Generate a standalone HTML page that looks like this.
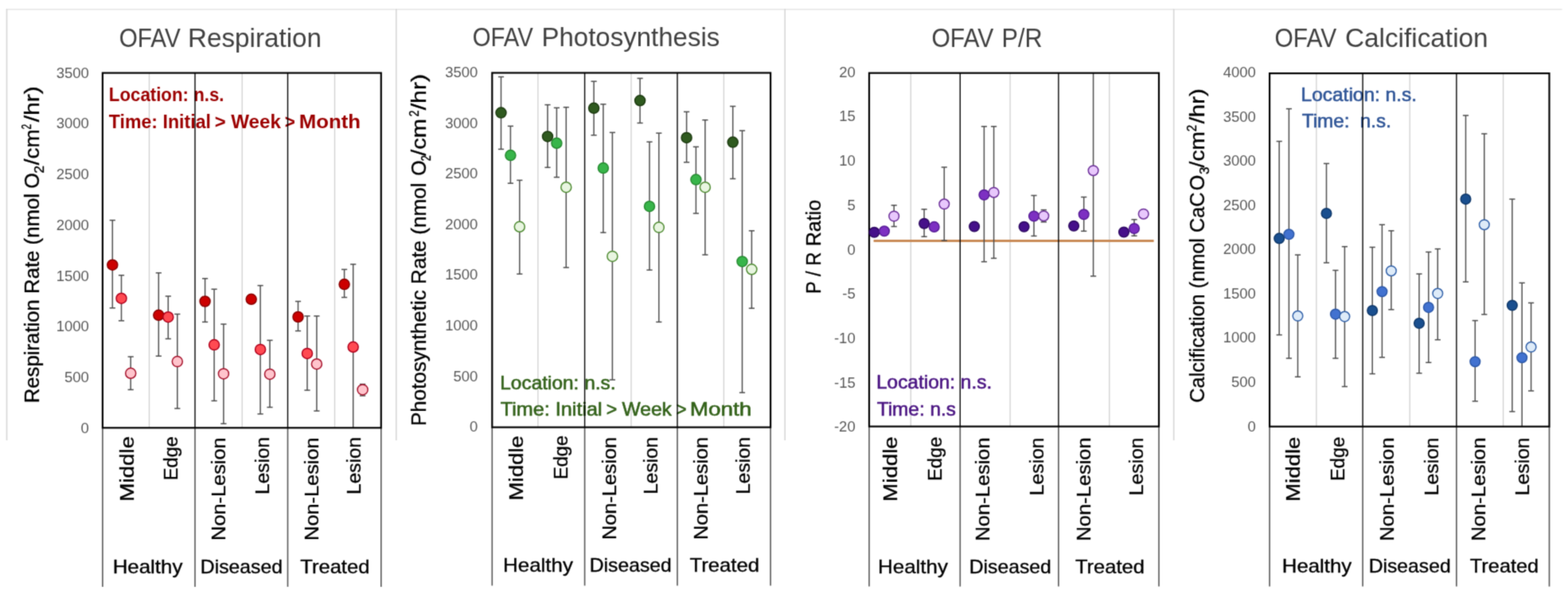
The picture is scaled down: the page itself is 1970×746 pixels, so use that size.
<!DOCTYPE html>
<html><head><meta charset="utf-8"><title>OFAV charts</title>
<style>
html,body{margin:0;padding:0;background:#fff;}
svg{display:block;}
#wrap{width:1970px;height:746px;}
text{font-family:"Liberation Sans", sans-serif;white-space:pre;}
.k{stroke:#000;stroke-width:0.35px;}
</style></head>
<body>
<div id="wrap">
<svg width="1970" height="746" viewBox="0 0 1970 746">
<defs><filter id="soft" x="0" y="0" width="100%" height="100%" filterUnits="userSpaceOnUse" color-interpolation-filters="sRGB"><feConvolveMatrix order="3" kernelMatrix="1 4 1 4 16 4 1 4 1" divisor="36" edgeMode="duplicate"/></filter></defs>
<g filter="url(#soft)">
<rect width="1970" height="746" fill="#fff"/>
<line x1="8.4" y1="11.8" x2="1962.5" y2="11.8" stroke="#e6e6e6" stroke-width="1.6"/>
<line x1="8.5" y1="11" x2="8.5" y2="553" stroke="#d6d6d6" stroke-width="1.6"/>
<line x1="497.8" y1="11" x2="497.8" y2="553" stroke="#d6d6d6" stroke-width="1.6"/>
<line x1="986.2" y1="11" x2="986.2" y2="553" stroke="#d6d6d6" stroke-width="1.6"/>
<line x1="1474.7" y1="11" x2="1474.7" y2="553" stroke="#d6d6d6" stroke-width="1.6"/>
<line x1="187.5" y1="91.6" x2="187.5" y2="537.3" stroke="#cfcfcf" stroke-width="1.3"/>
<line x1="304.2" y1="91.6" x2="304.2" y2="537.3" stroke="#cfcfcf" stroke-width="1.3"/>
<line x1="420.5" y1="91.6" x2="420.5" y2="537.3" stroke="#cfcfcf" stroke-width="1.3"/>
<text x="136.8" y="126.7" font-size="23.6" font-weight="bold" fill="#9c0000" textLength="144.71" lengthAdjust="spacingAndGlyphs" xml:space="preserve">Location: n.s.</text>
<text x="136.77" y="161" font-size="23.6" font-weight="bold" fill="#9c0000" textLength="128.17" lengthAdjust="spacingAndGlyphs" xml:space="preserve">Time: Initial</text>
<text x="269.79" y="161" font-size="23.6" font-weight="bold" fill="#9c0000" textLength="13.9" lengthAdjust="spacingAndGlyphs" xml:space="preserve">&gt;</text>
<text x="290.2" y="161" font-size="23.6" font-weight="bold" fill="#9c0000" textLength="62.68" lengthAdjust="spacingAndGlyphs" xml:space="preserve">Week</text>
<text x="357.75" y="161" font-size="23.6" font-weight="bold" fill="#9c0000" textLength="13.08" lengthAdjust="spacingAndGlyphs" xml:space="preserve">&gt;</text>
<text x="375.66" y="161" font-size="23.6" font-weight="bold" fill="#9c0000" textLength="77.42" lengthAdjust="spacingAndGlyphs" xml:space="preserve">Month</text>
<line x1="128.9" y1="537.3" x2="128.9" y2="736.9" stroke="#555555" stroke-width="1.6"/>
<line x1="245" y1="537.3" x2="245" y2="736.9" stroke="#555555" stroke-width="1.6"/>
<line x1="361.5" y1="537.3" x2="361.5" y2="736.9" stroke="#555555" stroke-width="1.6"/>
<line x1="478.8" y1="537.3" x2="478.8" y2="736.9" stroke="#555555" stroke-width="1.6"/>
<line x1="141.3" y1="276.6" x2="141.3" y2="386.8" stroke="#4d4d4d" stroke-width="1.5"/>
<line x1="137.7" y1="276.6" x2="144.9" y2="276.6" stroke="#4d4d4d" stroke-width="1.5"/>
<line x1="137.7" y1="386.8" x2="144.9" y2="386.8" stroke="#4d4d4d" stroke-width="1.5"/>
<line x1="152.5" y1="345.7" x2="152.5" y2="402.8" stroke="#4d4d4d" stroke-width="1.5"/>
<line x1="148.9" y1="345.7" x2="156.1" y2="345.7" stroke="#4d4d4d" stroke-width="1.5"/>
<line x1="148.9" y1="402.8" x2="156.1" y2="402.8" stroke="#4d4d4d" stroke-width="1.5"/>
<line x1="164.2" y1="448" x2="164.2" y2="489.4" stroke="#4d4d4d" stroke-width="1.5"/>
<line x1="160.6" y1="448" x2="167.8" y2="448" stroke="#4d4d4d" stroke-width="1.5"/>
<line x1="160.6" y1="489.4" x2="167.8" y2="489.4" stroke="#4d4d4d" stroke-width="1.5"/>
<line x1="199.3" y1="342.7" x2="199.3" y2="447.2" stroke="#4d4d4d" stroke-width="1.5"/>
<line x1="195.7" y1="342.7" x2="202.9" y2="342.7" stroke="#4d4d4d" stroke-width="1.5"/>
<line x1="195.7" y1="447.2" x2="202.9" y2="447.2" stroke="#4d4d4d" stroke-width="1.5"/>
<line x1="211.3" y1="372" x2="211.3" y2="425.5" stroke="#4d4d4d" stroke-width="1.5"/>
<line x1="207.7" y1="372" x2="214.9" y2="372" stroke="#4d4d4d" stroke-width="1.5"/>
<line x1="207.7" y1="425.5" x2="214.9" y2="425.5" stroke="#4d4d4d" stroke-width="1.5"/>
<line x1="222.8" y1="394.5" x2="222.8" y2="513" stroke="#4d4d4d" stroke-width="1.5"/>
<line x1="219.2" y1="394.5" x2="226.4" y2="394.5" stroke="#4d4d4d" stroke-width="1.5"/>
<line x1="219.2" y1="513" x2="226.4" y2="513" stroke="#4d4d4d" stroke-width="1.5"/>
<line x1="257.6" y1="349.8" x2="257.6" y2="404.4" stroke="#4d4d4d" stroke-width="1.5"/>
<line x1="254" y1="349.8" x2="261.2" y2="349.8" stroke="#4d4d4d" stroke-width="1.5"/>
<line x1="254" y1="404.4" x2="261.2" y2="404.4" stroke="#4d4d4d" stroke-width="1.5"/>
<line x1="269.1" y1="363.2" x2="269.1" y2="503.4" stroke="#4d4d4d" stroke-width="1.5"/>
<line x1="265.5" y1="363.2" x2="272.7" y2="363.2" stroke="#4d4d4d" stroke-width="1.5"/>
<line x1="265.5" y1="503.4" x2="272.7" y2="503.4" stroke="#4d4d4d" stroke-width="1.5"/>
<line x1="280.9" y1="407.1" x2="280.9" y2="532.1" stroke="#4d4d4d" stroke-width="1.5"/>
<line x1="277.3" y1="407.1" x2="284.5" y2="407.1" stroke="#4d4d4d" stroke-width="1.5"/>
<line x1="277.3" y1="532.1" x2="284.5" y2="532.1" stroke="#4d4d4d" stroke-width="1.5"/>
<line x1="327.1" y1="358.6" x2="327.1" y2="519.9" stroke="#4d4d4d" stroke-width="1.5"/>
<line x1="323.5" y1="358.6" x2="330.7" y2="358.6" stroke="#4d4d4d" stroke-width="1.5"/>
<line x1="323.5" y1="519.9" x2="330.7" y2="519.9" stroke="#4d4d4d" stroke-width="1.5"/>
<line x1="339" y1="427.4" x2="339" y2="511.5" stroke="#4d4d4d" stroke-width="1.5"/>
<line x1="335.4" y1="427.4" x2="342.6" y2="427.4" stroke="#4d4d4d" stroke-width="1.5"/>
<line x1="335.4" y1="511.5" x2="342.6" y2="511.5" stroke="#4d4d4d" stroke-width="1.5"/>
<line x1="374.5" y1="378.5" x2="374.5" y2="415.6" stroke="#4d4d4d" stroke-width="1.5"/>
<line x1="370.9" y1="378.5" x2="378.1" y2="378.5" stroke="#4d4d4d" stroke-width="1.5"/>
<line x1="370.9" y1="415.6" x2="378.1" y2="415.6" stroke="#4d4d4d" stroke-width="1.5"/>
<line x1="386" y1="396.9" x2="386" y2="490.1" stroke="#4d4d4d" stroke-width="1.5"/>
<line x1="382.4" y1="396.9" x2="389.6" y2="396.9" stroke="#4d4d4d" stroke-width="1.5"/>
<line x1="382.4" y1="490.1" x2="389.6" y2="490.1" stroke="#4d4d4d" stroke-width="1.5"/>
<line x1="397.9" y1="396.9" x2="397.9" y2="516.1" stroke="#4d4d4d" stroke-width="1.5"/>
<line x1="394.3" y1="396.9" x2="401.5" y2="396.9" stroke="#4d4d4d" stroke-width="1.5"/>
<line x1="394.3" y1="516.1" x2="401.5" y2="516.1" stroke="#4d4d4d" stroke-width="1.5"/>
<line x1="432.6" y1="338.4" x2="432.6" y2="373.5" stroke="#4d4d4d" stroke-width="1.5"/>
<line x1="429" y1="338.4" x2="436.2" y2="338.4" stroke="#4d4d4d" stroke-width="1.5"/>
<line x1="429" y1="373.5" x2="436.2" y2="373.5" stroke="#4d4d4d" stroke-width="1.5"/>
<line x1="443.7" y1="331.9" x2="443.7" y2="537.4" stroke="#4d4d4d" stroke-width="1.5"/>
<line x1="440.1" y1="331.9" x2="447.3" y2="331.9" stroke="#4d4d4d" stroke-width="1.5"/>
<line x1="455.6" y1="482.5" x2="455.6" y2="497" stroke="#4d4d4d" stroke-width="1.5"/>
<line x1="452" y1="482.5" x2="459.2" y2="482.5" stroke="#4d4d4d" stroke-width="1.5"/>
<line x1="452" y1="497" x2="459.2" y2="497" stroke="#4d4d4d" stroke-width="1.5"/>
<rect x="128.9" y="91.6" width="349.9" height="445.7" fill="none" stroke="#000000" stroke-width="2.2"/>
<circle cx="141.3" cy="332.7" r="6.5" fill="#cc0000" stroke="#8a0000" stroke-width="1.5"/>
<circle cx="152.5" cy="374.7" r="6.5" fill="#ff4a52" stroke="#b0001c" stroke-width="1.5"/>
<circle cx="164.2" cy="468.8" r="6.5" fill="#ffc4cc" stroke="#a5102a" stroke-width="1.5"/>
<circle cx="199.3" cy="395.8" r="6.5" fill="#cc0000" stroke="#8a0000" stroke-width="1.5"/>
<circle cx="211.3" cy="398.2" r="6.5" fill="#ff4a52" stroke="#b0001c" stroke-width="1.5"/>
<circle cx="222.8" cy="454.1" r="6.5" fill="#ffc4cc" stroke="#a5102a" stroke-width="1.5"/>
<circle cx="257.6" cy="378.5" r="6.5" fill="#cc0000" stroke="#8a0000" stroke-width="1.5"/>
<circle cx="269.1" cy="433.1" r="6.5" fill="#ff4a52" stroke="#b0001c" stroke-width="1.5"/>
<circle cx="280.9" cy="469.4" r="6.5" fill="#ffc4cc" stroke="#a5102a" stroke-width="1.5"/>
<circle cx="315.7" cy="375.8" r="6.5" fill="#cc0000" stroke="#8a0000" stroke-width="1.5"/>
<circle cx="327.1" cy="438.9" r="6.5" fill="#ff4a52" stroke="#b0001c" stroke-width="1.5"/>
<circle cx="339" cy="469.9" r="6.5" fill="#ffc4cc" stroke="#a5102a" stroke-width="1.5"/>
<circle cx="374.5" cy="398" r="6.5" fill="#cc0000" stroke="#8a0000" stroke-width="1.5"/>
<circle cx="386" cy="443.9" r="6.5" fill="#ff4a52" stroke="#b0001c" stroke-width="1.5"/>
<circle cx="397.9" cy="457.2" r="6.5" fill="#ffc4cc" stroke="#a5102a" stroke-width="1.5"/>
<circle cx="432.6" cy="357.1" r="6.5" fill="#cc0000" stroke="#8a0000" stroke-width="1.5"/>
<circle cx="443.7" cy="435.8" r="6.5" fill="#ff4a52" stroke="#b0001c" stroke-width="1.5"/>
<circle cx="455.6" cy="489.4" r="6.5" fill="#ffc4cc" stroke="#a5102a" stroke-width="1.5"/>
<line x1="245" y1="91.6" x2="245" y2="537.3" stroke="#000000" stroke-width="1.4"/>
<line x1="361.5" y1="91.6" x2="361.5" y2="537.3" stroke="#000000" stroke-width="1.4"/>
<text x="149.69" y="59.4" font-size="32.8" fill="#404040" textLength="77.11" lengthAdjust="spacingAndGlyphs" xml:space="preserve">OFAV</text>
<text x="236.06" y="59.4" font-size="32.8" fill="#404040" textLength="167.94" lengthAdjust="spacingAndGlyphs" xml:space="preserve">Respiration</text>
<text x="111.83" y="97.61" font-size="18.5" fill="#595959" text-anchor="end">3500</text>
<text x="111.83" y="161.37" font-size="18.5" fill="#595959" text-anchor="end">3000</text>
<text x="111.83" y="225.14" font-size="18.5" fill="#595959" text-anchor="end">2500</text>
<text x="111.83" y="288.9" font-size="18.5" fill="#595959" text-anchor="end">2000</text>
<text x="111.83" y="352.67" font-size="18.5" fill="#595959" text-anchor="end">1500</text>
<text x="111.83" y="416.43" font-size="18.5" fill="#595959" text-anchor="end">1000</text>
<text x="111.81" y="480.2" font-size="18.5" fill="#595959" text-anchor="end">500</text>
<text x="111.82" y="543.96" font-size="18.5" fill="#595959" text-anchor="end">0</text>
<text class="k" transform="translate(48.6,504.2) rotate(-90)" x="-2.12" y="0" font-size="26.0" fill="#000" textLength="263.25" lengthAdjust="spacingAndGlyphs">Respiration Rate (nmol</text>
<text class="k" transform="translate(48.6,235.5) rotate(-90)" x="-1.19" y="0" font-size="26.0" fill="#000" textLength="19.49" lengthAdjust="spacingAndGlyphs">O</text>
<text class="k" transform="translate(54.5,216.8) rotate(-90)" x="-0.88" y="0" font-size="16.0" fill="#000" textLength="9.78" lengthAdjust="spacingAndGlyphs">2</text>
<text class="k" transform="translate(48.6,207.2) rotate(-90)" x="0" y="0" font-size="26.0" fill="#000" textLength="44.73" lengthAdjust="spacingAndGlyphs">/cm</text>
<text class="k" transform="translate(39,161.9) rotate(-90)" x="-0.59" y="0" font-size="16.0" fill="#000" textLength="6.6" lengthAdjust="spacingAndGlyphs">2</text>
<text class="k" transform="translate(48.6,153.3) rotate(-90)" x="0" y="0" font-size="26.0" fill="#000" textLength="45.21" lengthAdjust="spacingAndGlyphs">/hr)</text>
<text class="k" transform="translate(167.8,627.5) rotate(-90)" x="-2.29" y="0" font-size="24.2" fill="#000" textLength="81.9" lengthAdjust="spacingAndGlyphs">Middle</text>
<text class="k" transform="translate(223.2,601.4) rotate(-90)" x="-1.96" y="0" font-size="24.2" fill="#000" textLength="55.38" lengthAdjust="spacingAndGlyphs">Edge</text>
<text class="k" transform="translate(283.2,676.8) rotate(-90)" x="-2.09" y="0" font-size="24.2" fill="#000" textLength="129.52" lengthAdjust="spacingAndGlyphs">Non-Lesion</text>
<text class="k" transform="translate(338.3,618.9) rotate(-90)" x="-2.02" y="0" font-size="24.2" fill="#000" textLength="71.99" lengthAdjust="spacingAndGlyphs">Lesion</text>
<text class="k" transform="translate(399.7,676.8) rotate(-90)" x="-2.09" y="0" font-size="24.2" fill="#000" textLength="129.52" lengthAdjust="spacingAndGlyphs">Non-Lesion</text>
<text class="k" transform="translate(453.2,618.9) rotate(-90)" x="-2.02" y="0" font-size="24.2" fill="#000" textLength="71.99" lengthAdjust="spacingAndGlyphs">Lesion</text>
<text class="k" x="141.67" y="719.6" font-size="23.8" fill="#000" textLength="87.72" lengthAdjust="spacingAndGlyphs" xml:space="preserve">Healthy</text>
<text class="k" x="251.86" y="719.6" font-size="23.8" fill="#000" textLength="103.13" lengthAdjust="spacingAndGlyphs" xml:space="preserve">Diseased</text>
<text class="k" x="377.22" y="719.6" font-size="23.8" fill="#000" textLength="87.22" lengthAdjust="spacingAndGlyphs" xml:space="preserve">Treated</text>
<line x1="675.9" y1="91.5" x2="675.9" y2="536.6" stroke="#cfcfcf" stroke-width="1.3"/>
<line x1="793" y1="91.5" x2="793" y2="536.6" stroke="#cfcfcf" stroke-width="1.3"/>
<line x1="909.4" y1="91.5" x2="909.4" y2="536.6" stroke="#cfcfcf" stroke-width="1.3"/>
<text x="628.29" y="488.6" font-size="23.6" stroke="#33621a" stroke-width="0.6" stroke-linejoin="round" fill="#33621a" textLength="145.24" lengthAdjust="spacingAndGlyphs" xml:space="preserve">Location: n.s.</text>
<text x="628.73" y="522.3" font-size="23.6" stroke="#33621a" stroke-width="0.6" stroke-linejoin="round" fill="#33621a" textLength="127.88" lengthAdjust="spacingAndGlyphs" xml:space="preserve">Time: Initial</text>
<text x="761.75" y="522.3" font-size="23.6" stroke="#33621a" stroke-width="0.6" stroke-linejoin="round" fill="#33621a" textLength="13.49" lengthAdjust="spacingAndGlyphs" xml:space="preserve">&gt;</text>
<text x="781.48" y="522.3" font-size="23.6" stroke="#33621a" stroke-width="0.6" stroke-linejoin="round" fill="#33621a" textLength="62.44" lengthAdjust="spacingAndGlyphs" xml:space="preserve">Week</text>
<text x="849.81" y="522.3" font-size="23.6" stroke="#33621a" stroke-width="0.6" stroke-linejoin="round" fill="#33621a" textLength="12.76" lengthAdjust="spacingAndGlyphs" xml:space="preserve">&gt;</text>
<text x="866.69" y="522.3" font-size="23.6" stroke="#33621a" stroke-width="0.6" stroke-linejoin="round" fill="#33621a" textLength="77.71" lengthAdjust="spacingAndGlyphs" xml:space="preserve">Month</text>
<line x1="618.3" y1="536.6" x2="618.3" y2="735.5" stroke="#555555" stroke-width="1.6"/>
<line x1="734.6" y1="536.6" x2="734.6" y2="735.5" stroke="#555555" stroke-width="1.6"/>
<line x1="851" y1="536.6" x2="851" y2="735.5" stroke="#555555" stroke-width="1.6"/>
<line x1="968.1" y1="536.6" x2="968.1" y2="735.5" stroke="#555555" stroke-width="1.6"/>
<line x1="629.5" y1="96.5" x2="629.5" y2="187.4" stroke="#4d4d4d" stroke-width="1.5"/>
<line x1="625.9" y1="96.5" x2="633.1" y2="96.5" stroke="#4d4d4d" stroke-width="1.5"/>
<line x1="625.9" y1="187.4" x2="633.1" y2="187.4" stroke="#4d4d4d" stroke-width="1.5"/>
<line x1="641.4" y1="158.4" x2="641.4" y2="230.2" stroke="#4d4d4d" stroke-width="1.5"/>
<line x1="637.8" y1="158.4" x2="645" y2="158.4" stroke="#4d4d4d" stroke-width="1.5"/>
<line x1="637.8" y1="230.2" x2="645" y2="230.2" stroke="#4d4d4d" stroke-width="1.5"/>
<line x1="652.8" y1="226.4" x2="652.8" y2="344.1" stroke="#4d4d4d" stroke-width="1.5"/>
<line x1="649.2" y1="226.4" x2="656.4" y2="226.4" stroke="#4d4d4d" stroke-width="1.5"/>
<line x1="649.2" y1="344.1" x2="656.4" y2="344.1" stroke="#4d4d4d" stroke-width="1.5"/>
<line x1="688" y1="131.6" x2="688" y2="210.3" stroke="#4d4d4d" stroke-width="1.5"/>
<line x1="684.4" y1="131.6" x2="691.6" y2="131.6" stroke="#4d4d4d" stroke-width="1.5"/>
<line x1="684.4" y1="210.3" x2="691.6" y2="210.3" stroke="#4d4d4d" stroke-width="1.5"/>
<line x1="699.4" y1="135.4" x2="699.4" y2="222.6" stroke="#4d4d4d" stroke-width="1.5"/>
<line x1="695.8" y1="135.4" x2="703" y2="135.4" stroke="#4d4d4d" stroke-width="1.5"/>
<line x1="695.8" y1="222.6" x2="703" y2="222.6" stroke="#4d4d4d" stroke-width="1.5"/>
<line x1="711.3" y1="134.7" x2="711.3" y2="336" stroke="#4d4d4d" stroke-width="1.5"/>
<line x1="707.7" y1="134.7" x2="714.9" y2="134.7" stroke="#4d4d4d" stroke-width="1.5"/>
<line x1="707.7" y1="336" x2="714.9" y2="336" stroke="#4d4d4d" stroke-width="1.5"/>
<line x1="746.1" y1="102.2" x2="746.1" y2="169.8" stroke="#4d4d4d" stroke-width="1.5"/>
<line x1="742.5" y1="102.2" x2="749.7" y2="102.2" stroke="#4d4d4d" stroke-width="1.5"/>
<line x1="742.5" y1="169.8" x2="749.7" y2="169.8" stroke="#4d4d4d" stroke-width="1.5"/>
<line x1="757.9" y1="130.9" x2="757.9" y2="292.1" stroke="#4d4d4d" stroke-width="1.5"/>
<line x1="754.3" y1="130.9" x2="761.5" y2="130.9" stroke="#4d4d4d" stroke-width="1.5"/>
<line x1="754.3" y1="292.1" x2="761.5" y2="292.1" stroke="#4d4d4d" stroke-width="1.5"/>
<line x1="769.4" y1="166.4" x2="769.4" y2="477" stroke="#4d4d4d" stroke-width="1.5"/>
<line x1="765.8" y1="166.4" x2="773" y2="166.4" stroke="#4d4d4d" stroke-width="1.5"/>
<line x1="765.8" y1="477" x2="773" y2="477" stroke="#4d4d4d" stroke-width="1.5"/>
<line x1="804.1" y1="98.4" x2="804.1" y2="154.5" stroke="#4d4d4d" stroke-width="1.5"/>
<line x1="800.5" y1="98.4" x2="807.7" y2="98.4" stroke="#4d4d4d" stroke-width="1.5"/>
<line x1="800.5" y1="154.5" x2="807.7" y2="154.5" stroke="#4d4d4d" stroke-width="1.5"/>
<line x1="816" y1="178.2" x2="816" y2="339.1" stroke="#4d4d4d" stroke-width="1.5"/>
<line x1="812.4" y1="178.2" x2="819.6" y2="178.2" stroke="#4d4d4d" stroke-width="1.5"/>
<line x1="812.4" y1="339.1" x2="819.6" y2="339.1" stroke="#4d4d4d" stroke-width="1.5"/>
<line x1="827.8" y1="167.2" x2="827.8" y2="404.4" stroke="#4d4d4d" stroke-width="1.5"/>
<line x1="824.2" y1="167.2" x2="831.4" y2="167.2" stroke="#4d4d4d" stroke-width="1.5"/>
<line x1="824.2" y1="404.4" x2="831.4" y2="404.4" stroke="#4d4d4d" stroke-width="1.5"/>
<line x1="862.6" y1="140.4" x2="862.6" y2="203.8" stroke="#4d4d4d" stroke-width="1.5"/>
<line x1="859" y1="140.4" x2="866.2" y2="140.4" stroke="#4d4d4d" stroke-width="1.5"/>
<line x1="859" y1="203.8" x2="866.2" y2="203.8" stroke="#4d4d4d" stroke-width="1.5"/>
<line x1="874.4" y1="184.4" x2="874.4" y2="268" stroke="#4d4d4d" stroke-width="1.5"/>
<line x1="870.8" y1="184.4" x2="878" y2="184.4" stroke="#4d4d4d" stroke-width="1.5"/>
<line x1="870.8" y1="268" x2="878" y2="268" stroke="#4d4d4d" stroke-width="1.5"/>
<line x1="885.9" y1="150.7" x2="885.9" y2="320" stroke="#4d4d4d" stroke-width="1.5"/>
<line x1="882.3" y1="150.7" x2="889.5" y2="150.7" stroke="#4d4d4d" stroke-width="1.5"/>
<line x1="882.3" y1="320" x2="889.5" y2="320" stroke="#4d4d4d" stroke-width="1.5"/>
<line x1="920.7" y1="133.5" x2="920.7" y2="224.5" stroke="#4d4d4d" stroke-width="1.5"/>
<line x1="917.1" y1="133.5" x2="924.3" y2="133.5" stroke="#4d4d4d" stroke-width="1.5"/>
<line x1="917.1" y1="224.5" x2="924.3" y2="224.5" stroke="#4d4d4d" stroke-width="1.5"/>
<line x1="932.5" y1="164.1" x2="932.5" y2="493.1" stroke="#4d4d4d" stroke-width="1.5"/>
<line x1="928.9" y1="164.1" x2="936.1" y2="164.1" stroke="#4d4d4d" stroke-width="1.5"/>
<line x1="928.9" y1="493.1" x2="936.1" y2="493.1" stroke="#4d4d4d" stroke-width="1.5"/>
<line x1="944.4" y1="289.8" x2="944.4" y2="387.2" stroke="#4d4d4d" stroke-width="1.5"/>
<line x1="940.8" y1="289.8" x2="948" y2="289.8" stroke="#4d4d4d" stroke-width="1.5"/>
<line x1="940.8" y1="387.2" x2="948" y2="387.2" stroke="#4d4d4d" stroke-width="1.5"/>
<rect x="618.3" y="91.5" width="349.8" height="445.1" fill="none" stroke="#000000" stroke-width="2.2"/>
<circle cx="629.5" cy="141.6" r="6.5" fill="#2f5a1f" stroke="#1c3a10" stroke-width="1.5"/>
<circle cx="641.4" cy="195.1" r="6.5" fill="#38b54a" stroke="#268a30" stroke-width="1.5"/>
<circle cx="652.8" cy="284.8" r="6.5" fill="#e8f5e0" stroke="#4d8a30" stroke-width="1.5"/>
<circle cx="688" cy="171.4" r="6.5" fill="#2f5a1f" stroke="#1c3a10" stroke-width="1.5"/>
<circle cx="699.4" cy="179.8" r="6.5" fill="#38b54a" stroke="#268a30" stroke-width="1.5"/>
<circle cx="711.3" cy="235.2" r="6.5" fill="#e8f5e0" stroke="#4d8a30" stroke-width="1.5"/>
<circle cx="746.1" cy="135.8" r="6.5" fill="#2f5a1f" stroke="#1c3a10" stroke-width="1.5"/>
<circle cx="757.9" cy="211.1" r="6.5" fill="#38b54a" stroke="#268a30" stroke-width="1.5"/>
<circle cx="769.4" cy="321.9" r="6.5" fill="#e8f5e0" stroke="#4d8a30" stroke-width="1.5"/>
<circle cx="804.1" cy="126.3" r="6.5" fill="#2f5a1f" stroke="#1c3a10" stroke-width="1.5"/>
<circle cx="816" cy="259.2" r="6.5" fill="#38b54a" stroke="#268a30" stroke-width="1.5"/>
<circle cx="827.8" cy="285.6" r="6.5" fill="#e8f5e0" stroke="#4d8a30" stroke-width="1.5"/>
<circle cx="862.6" cy="172.9" r="6.5" fill="#2f5a1f" stroke="#1c3a10" stroke-width="1.5"/>
<circle cx="874.4" cy="225.6" r="6.5" fill="#38b54a" stroke="#268a30" stroke-width="1.5"/>
<circle cx="885.9" cy="235.2" r="6.5" fill="#e8f5e0" stroke="#4d8a30" stroke-width="1.5"/>
<circle cx="920.7" cy="178.6" r="6.5" fill="#2f5a1f" stroke="#1c3a10" stroke-width="1.5"/>
<circle cx="932.5" cy="328.4" r="6.5" fill="#38b54a" stroke="#268a30" stroke-width="1.5"/>
<circle cx="944.4" cy="338.3" r="6.5" fill="#e8f5e0" stroke="#4d8a30" stroke-width="1.5"/>
<line x1="734.6" y1="91.5" x2="734.6" y2="536.6" stroke="#000000" stroke-width="1.4"/>
<line x1="851" y1="91.5" x2="851" y2="536.6" stroke="#000000" stroke-width="1.4"/>
<text x="593.81" y="57.6" font-size="32.8" fill="#404040" textLength="75.99" lengthAdjust="spacingAndGlyphs" xml:space="preserve">OFAV</text>
<text x="680.48" y="57.6" font-size="32.8" fill="#404040" textLength="223.76" lengthAdjust="spacingAndGlyphs" xml:space="preserve">Photosynthesis</text>
<text x="600.33" y="96.91" font-size="18.5" fill="#595959" text-anchor="end">3500</text>
<text x="600.33" y="160.54" font-size="18.5" fill="#595959" text-anchor="end">3000</text>
<text x="600.33" y="224.17" font-size="18.5" fill="#595959" text-anchor="end">2500</text>
<text x="600.33" y="287.8" font-size="18.5" fill="#595959" text-anchor="end">2000</text>
<text x="600.33" y="351.42" font-size="18.5" fill="#595959" text-anchor="end">1500</text>
<text x="600.33" y="415.05" font-size="18.5" fill="#595959" text-anchor="end">1000</text>
<text x="600.31" y="478.68" font-size="18.5" fill="#595959" text-anchor="end">500</text>
<text x="600.32" y="542.31" font-size="18.5" fill="#595959" text-anchor="end">0</text>
<text class="k" transform="translate(535.2,532.9) rotate(-90)" x="-2.15" y="0" font-size="26.0" fill="#000" textLength="305.53" lengthAdjust="spacingAndGlyphs">Photosynthetic Rate (nmol</text>
<text class="k" transform="translate(535.2,219.5) rotate(-90)" x="-1.18" y="0" font-size="26.0" fill="#000" textLength="19.38" lengthAdjust="spacingAndGlyphs">O</text>
<text class="k" transform="translate(541.4,201.7) rotate(-90)" x="-0.65" y="0" font-size="16.0" fill="#000" textLength="7.21" lengthAdjust="spacingAndGlyphs">2</text>
<text class="k" transform="translate(535.2,195.8) rotate(-90)" x="0" y="0" font-size="26.0" fill="#000" textLength="46.81" lengthAdjust="spacingAndGlyphs">/cm</text>
<text class="k" transform="translate(525.6,145.8) rotate(-90)" x="-0.71" y="0" font-size="16.0" fill="#000" textLength="7.95" lengthAdjust="spacingAndGlyphs">2</text>
<text class="k" transform="translate(535.2,138.3) rotate(-90)" x="0" y="0" font-size="26.0" fill="#000" textLength="45.31" lengthAdjust="spacingAndGlyphs">/hr)</text>
<text class="k" transform="translate(656.9,626.2) rotate(-90)" x="-2.28" y="0" font-size="24.2" fill="#000" textLength="81.38" lengthAdjust="spacingAndGlyphs">Middle</text>
<text class="k" transform="translate(712.5,600) rotate(-90)" x="-1.94" y="0" font-size="24.2" fill="#000" textLength="54.95" lengthAdjust="spacingAndGlyphs">Edge</text>
<text class="k" transform="translate(773.5,675.9) rotate(-90)" x="-2.08" y="0" font-size="24.2" fill="#000" textLength="129.11" lengthAdjust="spacingAndGlyphs">Non-Lesion</text>
<text class="k" transform="translate(825.8,618.7) rotate(-90)" x="-2.01" y="0" font-size="24.2" fill="#000" textLength="71.78" lengthAdjust="spacingAndGlyphs">Lesion</text>
<text class="k" transform="translate(889.1,675.9) rotate(-90)" x="-2.08" y="0" font-size="24.2" fill="#000" textLength="129.11" lengthAdjust="spacingAndGlyphs">Non-Lesion</text>
<text class="k" transform="translate(941.7,618.7) rotate(-90)" x="-2.01" y="0" font-size="24.2" fill="#000" textLength="71.78" lengthAdjust="spacingAndGlyphs">Lesion</text>
<text class="k" x="632.06" y="717.6" font-size="23.8" fill="#000" textLength="87.82" lengthAdjust="spacingAndGlyphs" xml:space="preserve">Healthy</text>
<text class="k" x="740.76" y="717.6" font-size="23.8" fill="#000" textLength="103.02" lengthAdjust="spacingAndGlyphs" xml:space="preserve">Diseased</text>
<text class="k" x="866.42" y="717.6" font-size="23.8" fill="#000" textLength="87.63" lengthAdjust="spacingAndGlyphs" xml:space="preserve">Treated</text>
<line x1="1144.3" y1="91.7" x2="1144.3" y2="535.6" stroke="#cfcfcf" stroke-width="1.3"/>
<line x1="1269.1" y1="91.7" x2="1269.1" y2="535.6" stroke="#cfcfcf" stroke-width="1.3"/>
<line x1="1393.8" y1="91.7" x2="1393.8" y2="535.6" stroke="#cfcfcf" stroke-width="1.3"/>
<text x="1100.99" y="488.4" font-size="23.6" stroke="#4a1482" stroke-width="0.6" stroke-linejoin="round" fill="#4a1482" textLength="145.24" lengthAdjust="spacingAndGlyphs" xml:space="preserve">Location: n.s.</text>
<text x="1101.75" y="522" font-size="23.6" stroke="#4a1482" stroke-width="0.6" stroke-linejoin="round" fill="#4a1482" textLength="99.09" lengthAdjust="spacingAndGlyphs" xml:space="preserve">Time: n.s</text>
<line x1="1092" y1="535.6" x2="1092" y2="736.6" stroke="#555555" stroke-width="1.6"/>
<line x1="1206.3" y1="535.6" x2="1206.3" y2="736.6" stroke="#555555" stroke-width="1.6"/>
<line x1="1329.9" y1="535.6" x2="1329.9" y2="736.6" stroke="#555555" stroke-width="1.6"/>
<line x1="1456" y1="535.6" x2="1456" y2="736.6" stroke="#555555" stroke-width="1.6"/>
<line x1="1097.6" y1="302.6" x2="1449.6" y2="302.6" stroke="#c98a56" stroke-width="3"/>
<line x1="1123.2" y1="257.8" x2="1123.2" y2="284.5" stroke="#4d4d4d" stroke-width="1.5"/>
<line x1="1119.6" y1="257.8" x2="1126.8" y2="257.8" stroke="#4d4d4d" stroke-width="1.5"/>
<line x1="1119.6" y1="284.5" x2="1126.8" y2="284.5" stroke="#4d4d4d" stroke-width="1.5"/>
<line x1="1161.1" y1="262.8" x2="1161.1" y2="297.2" stroke="#4d4d4d" stroke-width="1.5"/>
<line x1="1157.5" y1="262.8" x2="1164.7" y2="262.8" stroke="#4d4d4d" stroke-width="1.5"/>
<line x1="1157.5" y1="297.2" x2="1164.7" y2="297.2" stroke="#4d4d4d" stroke-width="1.5"/>
<line x1="1186.3" y1="210" x2="1186.3" y2="302.1" stroke="#4d4d4d" stroke-width="1.5"/>
<line x1="1182.7" y1="210" x2="1189.9" y2="210" stroke="#4d4d4d" stroke-width="1.5"/>
<line x1="1182.7" y1="302.1" x2="1189.9" y2="302.1" stroke="#4d4d4d" stroke-width="1.5"/>
<line x1="1236.4" y1="158.8" x2="1236.4" y2="328.7" stroke="#4d4d4d" stroke-width="1.5"/>
<line x1="1232.8" y1="158.8" x2="1240" y2="158.8" stroke="#4d4d4d" stroke-width="1.5"/>
<line x1="1232.8" y1="328.7" x2="1240" y2="328.7" stroke="#4d4d4d" stroke-width="1.5"/>
<line x1="1248.6" y1="158.8" x2="1248.6" y2="324.4" stroke="#4d4d4d" stroke-width="1.5"/>
<line x1="1245" y1="158.8" x2="1252.2" y2="158.8" stroke="#4d4d4d" stroke-width="1.5"/>
<line x1="1245" y1="324.4" x2="1252.2" y2="324.4" stroke="#4d4d4d" stroke-width="1.5"/>
<line x1="1299" y1="245.5" x2="1299" y2="296.4" stroke="#4d4d4d" stroke-width="1.5"/>
<line x1="1295.4" y1="245.5" x2="1302.6" y2="245.5" stroke="#4d4d4d" stroke-width="1.5"/>
<line x1="1295.4" y1="296.4" x2="1302.6" y2="296.4" stroke="#4d4d4d" stroke-width="1.5"/>
<line x1="1311.3" y1="263.6" x2="1311.3" y2="278.8" stroke="#4d4d4d" stroke-width="1.5"/>
<line x1="1307.7" y1="263.6" x2="1314.9" y2="263.6" stroke="#4d4d4d" stroke-width="1.5"/>
<line x1="1307.7" y1="278.8" x2="1314.9" y2="278.8" stroke="#4d4d4d" stroke-width="1.5"/>
<line x1="1361.7" y1="247.5" x2="1361.7" y2="290.3" stroke="#4d4d4d" stroke-width="1.5"/>
<line x1="1358.1" y1="247.5" x2="1365.3" y2="247.5" stroke="#4d4d4d" stroke-width="1.5"/>
<line x1="1358.1" y1="290.3" x2="1365.3" y2="290.3" stroke="#4d4d4d" stroke-width="1.5"/>
<line x1="1373.6" y1="91.5" x2="1373.6" y2="346.8" stroke="#4d4d4d" stroke-width="1.5"/>
<line x1="1370" y1="346.8" x2="1377.2" y2="346.8" stroke="#4d4d4d" stroke-width="1.5"/>
<line x1="1425" y1="275.7" x2="1425" y2="296.2" stroke="#4d4d4d" stroke-width="1.5"/>
<line x1="1421.4" y1="275.7" x2="1428.6" y2="275.7" stroke="#4d4d4d" stroke-width="1.5"/>
<line x1="1421.4" y1="296.2" x2="1428.6" y2="296.2" stroke="#4d4d4d" stroke-width="1.5"/>
<rect x="1092" y="91.7" width="364" height="443.9" fill="none" stroke="#000000" stroke-width="2.2"/>
<circle cx="1098.4" cy="291.8" r="6.3" fill="#46108a" stroke="#2c0860" stroke-width="1.5"/>
<circle cx="1111" cy="290.3" r="6.3" fill="#7d30c2" stroke="#561c96" stroke-width="1.5"/>
<circle cx="1123.2" cy="271.5" r="6.3" fill="#e8c8fc" stroke="#6a2c98" stroke-width="1.5"/>
<circle cx="1161.1" cy="280.7" r="6.3" fill="#46108a" stroke="#2c0860" stroke-width="1.5"/>
<circle cx="1173.7" cy="284.9" r="6.3" fill="#7d30c2" stroke="#561c96" stroke-width="1.5"/>
<circle cx="1186.3" cy="256.3" r="6.3" fill="#e8c8fc" stroke="#6a2c98" stroke-width="1.5"/>
<circle cx="1224.1" cy="284.5" r="6.3" fill="#46108a" stroke="#2c0860" stroke-width="1.5"/>
<circle cx="1236.4" cy="244.8" r="6.3" fill="#7d30c2" stroke="#561c96" stroke-width="1.5"/>
<circle cx="1248.6" cy="241.7" r="6.3" fill="#e8c8fc" stroke="#6a2c98" stroke-width="1.5"/>
<circle cx="1286.6" cy="284.8" r="6.3" fill="#46108a" stroke="#2c0860" stroke-width="1.5"/>
<circle cx="1299" cy="271.5" r="6.3" fill="#7d30c2" stroke="#561c96" stroke-width="1.5"/>
<circle cx="1311.3" cy="271.2" r="6.3" fill="#e8c8fc" stroke="#6a2c98" stroke-width="1.5"/>
<circle cx="1349.1" cy="283.8" r="6.3" fill="#46108a" stroke="#2c0860" stroke-width="1.5"/>
<circle cx="1361.7" cy="269.3" r="6.3" fill="#7d30c2" stroke="#561c96" stroke-width="1.5"/>
<circle cx="1373.6" cy="214.2" r="6.3" fill="#e8c8fc" stroke="#6a2c98" stroke-width="1.5"/>
<circle cx="1412" cy="291.5" r="6.3" fill="#46108a" stroke="#2c0860" stroke-width="1.5"/>
<circle cx="1425" cy="287" r="6.3" fill="#7d30c2" stroke="#561c96" stroke-width="1.5"/>
<circle cx="1436.7" cy="268.7" r="6.3" fill="#e8c8fc" stroke="#6a2c98" stroke-width="1.5"/>
<line x1="1206.3" y1="91.7" x2="1206.3" y2="535.6" stroke="#000000" stroke-width="1.4"/>
<line x1="1329.9" y1="91.7" x2="1329.9" y2="535.6" stroke="#000000" stroke-width="1.4"/>
<text x="1170.47" y="58.8" font-size="32.8" fill="#404040" textLength="77.83" lengthAdjust="spacingAndGlyphs" xml:space="preserve">OFAV</text>
<text x="1258.47" y="58.8" font-size="32.8" fill="#404040" textLength="51.07" lengthAdjust="spacingAndGlyphs" xml:space="preserve">P/R</text>
<text x="1074.74" y="96.91" font-size="18.5" fill="#595959" text-anchor="end">20</text>
<text x="1074.78" y="152.49" font-size="18.5" fill="#595959" text-anchor="end">15</text>
<text x="1074.74" y="208.26" font-size="18.5" fill="#595959" text-anchor="end">10</text>
<text x="1074.76" y="263.84" font-size="18.5" fill="#595959" text-anchor="end">5</text>
<text x="1074.72" y="319.61" font-size="18.5" fill="#595959" text-anchor="end">0</text>
<text x="1074.77" y="375.19" font-size="18.5" fill="#595959" text-anchor="end">-5</text>
<text x="1074.7" y="430.96" font-size="18.5" fill="#595959" text-anchor="end">-10</text>
<text x="1074.75" y="486.54" font-size="18.5" fill="#595959" text-anchor="end">-15</text>
<text x="1074.7" y="542.31" font-size="18.5" fill="#595959" text-anchor="end">-20</text>
<text class="k" transform="translate(1030.8,367) rotate(-90)" x="-1.96" y="0" font-size="26.0" fill="#000" textLength="52.27" lengthAdjust="spacingAndGlyphs">P / R</text>
<text class="k" transform="translate(1030.8,307.3) rotate(-90)" x="-2.06" y="0" font-size="26.0" fill="#000" textLength="58.42" lengthAdjust="spacingAndGlyphs">Ratio</text>
<text class="k" transform="translate(1126.8,627.6) rotate(-90)" x="-2.29" y="0" font-size="24.2" fill="#000" textLength="81.69" lengthAdjust="spacingAndGlyphs">Middle</text>
<text class="k" transform="translate(1182.6,602.1) rotate(-90)" x="-1.96" y="0" font-size="24.2" fill="#000" textLength="55.38" lengthAdjust="spacingAndGlyphs">Edge</text>
<text class="k" transform="translate(1242.8,677.5) rotate(-90)" x="-2.1" y="0" font-size="24.2" fill="#000" textLength="130.24" lengthAdjust="spacingAndGlyphs">Non-Lesion</text>
<text class="k" transform="translate(1310.5,620.1) rotate(-90)" x="-2.04" y="0" font-size="24.2" fill="#000" textLength="72.72" lengthAdjust="spacingAndGlyphs">Lesion</text>
<text class="k" transform="translate(1370,677.5) rotate(-90)" x="-2.1" y="0" font-size="24.2" fill="#000" textLength="130.24" lengthAdjust="spacingAndGlyphs">Non-Lesion</text>
<text class="k" transform="translate(1436.4,620.1) rotate(-90)" x="-2.04" y="0" font-size="24.2" fill="#000" textLength="72.72" lengthAdjust="spacingAndGlyphs">Lesion</text>
<text class="k" x="1103.06" y="719.5" font-size="23.8" fill="#000" textLength="87.82" lengthAdjust="spacingAndGlyphs" xml:space="preserve">Healthy</text>
<text class="k" x="1217.76" y="719.5" font-size="23.8" fill="#000" textLength="103.02" lengthAdjust="spacingAndGlyphs" xml:space="preserve">Diseased</text>
<text class="k" x="1350.93" y="719.5" font-size="23.8" fill="#000" textLength="87.02" lengthAdjust="spacingAndGlyphs" xml:space="preserve">Treated</text>
<line x1="1653.9" y1="92.1" x2="1653.9" y2="535.7" stroke="#cfcfcf" stroke-width="1.3"/>
<line x1="1771.2" y1="92.1" x2="1771.2" y2="535.7" stroke="#cfcfcf" stroke-width="1.3"/>
<line x1="1888.6" y1="92.1" x2="1888.6" y2="535.7" stroke="#cfcfcf" stroke-width="1.3"/>
<text x="1634.58" y="126.7" font-size="23.6" stroke="#2f5597" stroke-width="0.6" stroke-linejoin="round" fill="#2f5597" textLength="145.44" lengthAdjust="spacingAndGlyphs" xml:space="preserve">Location: n.s.</text>
<text x="1635.76" y="160.3" font-size="23.6" stroke="#2f5597" stroke-width="0.6" stroke-linejoin="round" fill="#2f5597" textLength="112.14" lengthAdjust="spacingAndGlyphs" xml:space="preserve">Time:  n.s.</text>
<line x1="1595.1" y1="535.7" x2="1595.1" y2="736.6" stroke="#555555" stroke-width="1.6"/>
<line x1="1712.1" y1="535.7" x2="1712.1" y2="736.6" stroke="#555555" stroke-width="1.6"/>
<line x1="1829.9" y1="535.7" x2="1829.9" y2="736.6" stroke="#555555" stroke-width="1.6"/>
<line x1="1946.5" y1="535.7" x2="1946.5" y2="736.6" stroke="#555555" stroke-width="1.6"/>
<line x1="1607.2" y1="177.5" x2="1607.2" y2="420.6" stroke="#4d4d4d" stroke-width="1.5"/>
<line x1="1603.6" y1="177.5" x2="1610.8" y2="177.5" stroke="#4d4d4d" stroke-width="1.5"/>
<line x1="1603.6" y1="420.6" x2="1610.8" y2="420.6" stroke="#4d4d4d" stroke-width="1.5"/>
<line x1="1619.4" y1="136.6" x2="1619.4" y2="450" stroke="#4d4d4d" stroke-width="1.5"/>
<line x1="1615.8" y1="136.6" x2="1623" y2="136.6" stroke="#4d4d4d" stroke-width="1.5"/>
<line x1="1615.8" y1="450" x2="1623" y2="450" stroke="#4d4d4d" stroke-width="1.5"/>
<line x1="1630.5" y1="320.1" x2="1630.5" y2="473.3" stroke="#4d4d4d" stroke-width="1.5"/>
<line x1="1626.9" y1="320.1" x2="1634.1" y2="320.1" stroke="#4d4d4d" stroke-width="1.5"/>
<line x1="1626.9" y1="473.3" x2="1634.1" y2="473.3" stroke="#4d4d4d" stroke-width="1.5"/>
<line x1="1666.5" y1="205.4" x2="1666.5" y2="330" stroke="#4d4d4d" stroke-width="1.5"/>
<line x1="1662.9" y1="205.4" x2="1670.1" y2="205.4" stroke="#4d4d4d" stroke-width="1.5"/>
<line x1="1662.9" y1="330" x2="1670.1" y2="330" stroke="#4d4d4d" stroke-width="1.5"/>
<line x1="1677.9" y1="339.5" x2="1677.9" y2="450" stroke="#4d4d4d" stroke-width="1.5"/>
<line x1="1674.3" y1="339.5" x2="1681.5" y2="339.5" stroke="#4d4d4d" stroke-width="1.5"/>
<line x1="1674.3" y1="450" x2="1681.5" y2="450" stroke="#4d4d4d" stroke-width="1.5"/>
<line x1="1689.4" y1="309.7" x2="1689.4" y2="485.5" stroke="#4d4d4d" stroke-width="1.5"/>
<line x1="1685.8" y1="309.7" x2="1693" y2="309.7" stroke="#4d4d4d" stroke-width="1.5"/>
<line x1="1685.8" y1="485.5" x2="1693" y2="485.5" stroke="#4d4d4d" stroke-width="1.5"/>
<line x1="1724.2" y1="310.5" x2="1724.2" y2="469.5" stroke="#4d4d4d" stroke-width="1.5"/>
<line x1="1720.6" y1="310.5" x2="1727.8" y2="310.5" stroke="#4d4d4d" stroke-width="1.5"/>
<line x1="1720.6" y1="469.5" x2="1727.8" y2="469.5" stroke="#4d4d4d" stroke-width="1.5"/>
<line x1="1736.4" y1="282.2" x2="1736.4" y2="448.8" stroke="#4d4d4d" stroke-width="1.5"/>
<line x1="1732.8" y1="282.2" x2="1740" y2="282.2" stroke="#4d4d4d" stroke-width="1.5"/>
<line x1="1732.8" y1="448.8" x2="1740" y2="448.8" stroke="#4d4d4d" stroke-width="1.5"/>
<line x1="1747.9" y1="289.8" x2="1747.9" y2="388.8" stroke="#4d4d4d" stroke-width="1.5"/>
<line x1="1744.3" y1="289.8" x2="1751.5" y2="289.8" stroke="#4d4d4d" stroke-width="1.5"/>
<line x1="1744.3" y1="388.8" x2="1751.5" y2="388.8" stroke="#4d4d4d" stroke-width="1.5"/>
<line x1="1783" y1="344" x2="1783" y2="468.7" stroke="#4d4d4d" stroke-width="1.5"/>
<line x1="1779.4" y1="344" x2="1786.6" y2="344" stroke="#4d4d4d" stroke-width="1.5"/>
<line x1="1779.4" y1="468.7" x2="1786.6" y2="468.7" stroke="#4d4d4d" stroke-width="1.5"/>
<line x1="1794.8" y1="316.5" x2="1794.8" y2="455.3" stroke="#4d4d4d" stroke-width="1.5"/>
<line x1="1791.2" y1="316.5" x2="1798.4" y2="316.5" stroke="#4d4d4d" stroke-width="1.5"/>
<line x1="1791.2" y1="455.3" x2="1798.4" y2="455.3" stroke="#4d4d4d" stroke-width="1.5"/>
<line x1="1806.3" y1="312.6" x2="1806.3" y2="426.7" stroke="#4d4d4d" stroke-width="1.5"/>
<line x1="1802.7" y1="312.6" x2="1809.9" y2="312.6" stroke="#4d4d4d" stroke-width="1.5"/>
<line x1="1802.7" y1="426.7" x2="1809.9" y2="426.7" stroke="#4d4d4d" stroke-width="1.5"/>
<line x1="1841.5" y1="145" x2="1841.5" y2="354" stroke="#4d4d4d" stroke-width="1.5"/>
<line x1="1837.9" y1="145" x2="1845.1" y2="145" stroke="#4d4d4d" stroke-width="1.5"/>
<line x1="1837.9" y1="354" x2="1845.1" y2="354" stroke="#4d4d4d" stroke-width="1.5"/>
<line x1="1853.3" y1="402.6" x2="1853.3" y2="503.9" stroke="#4d4d4d" stroke-width="1.5"/>
<line x1="1849.7" y1="402.6" x2="1856.9" y2="402.6" stroke="#4d4d4d" stroke-width="1.5"/>
<line x1="1849.7" y1="503.9" x2="1856.9" y2="503.9" stroke="#4d4d4d" stroke-width="1.5"/>
<line x1="1864.8" y1="168" x2="1864.8" y2="394.9" stroke="#4d4d4d" stroke-width="1.5"/>
<line x1="1861.2" y1="168" x2="1868.4" y2="168" stroke="#4d4d4d" stroke-width="1.5"/>
<line x1="1861.2" y1="394.9" x2="1868.4" y2="394.9" stroke="#4d4d4d" stroke-width="1.5"/>
<line x1="1899.9" y1="250.1" x2="1899.9" y2="516.9" stroke="#4d4d4d" stroke-width="1.5"/>
<line x1="1896.3" y1="250.1" x2="1903.5" y2="250.1" stroke="#4d4d4d" stroke-width="1.5"/>
<line x1="1896.3" y1="516.9" x2="1903.5" y2="516.9" stroke="#4d4d4d" stroke-width="1.5"/>
<line x1="1912.2" y1="355.3" x2="1912.2" y2="535" stroke="#4d4d4d" stroke-width="1.5"/>
<line x1="1908.6" y1="355.3" x2="1915.8" y2="355.3" stroke="#4d4d4d" stroke-width="1.5"/>
<line x1="1923.6" y1="380.4" x2="1923.6" y2="490.9" stroke="#4d4d4d" stroke-width="1.5"/>
<line x1="1920" y1="380.4" x2="1927.2" y2="380.4" stroke="#4d4d4d" stroke-width="1.5"/>
<line x1="1920" y1="490.9" x2="1927.2" y2="490.9" stroke="#4d4d4d" stroke-width="1.5"/>
<rect x="1595.1" y="92.1" width="351.4" height="443.6" fill="none" stroke="#000000" stroke-width="2.2"/>
<circle cx="1607.2" cy="299.4" r="6.3" fill="#1a4f8f" stroke="#0f386a" stroke-width="1.5"/>
<circle cx="1619.4" cy="294.3" r="6.3" fill="#4272d0" stroke="#2c58a8" stroke-width="1.5"/>
<circle cx="1630.5" cy="396.8" r="6.3" fill="#deebf8" stroke="#2f5fa8" stroke-width="1.5"/>
<circle cx="1666.5" cy="268" r="6.3" fill="#1a4f8f" stroke="#0f386a" stroke-width="1.5"/>
<circle cx="1677.9" cy="394.6" r="6.3" fill="#4272d0" stroke="#2c58a8" stroke-width="1.5"/>
<circle cx="1689.4" cy="397.6" r="6.3" fill="#deebf8" stroke="#2f5fa8" stroke-width="1.5"/>
<circle cx="1724.2" cy="390" r="6.3" fill="#1a4f8f" stroke="#0f386a" stroke-width="1.5"/>
<circle cx="1736.4" cy="366.2" r="6.3" fill="#4272d0" stroke="#2c58a8" stroke-width="1.5"/>
<circle cx="1747.9" cy="340.2" r="6.3" fill="#deebf8" stroke="#2f5fa8" stroke-width="1.5"/>
<circle cx="1783" cy="406" r="6.3" fill="#1a4f8f" stroke="#0f386a" stroke-width="1.5"/>
<circle cx="1794.8" cy="386.1" r="6.3" fill="#4272d0" stroke="#2c58a8" stroke-width="1.5"/>
<circle cx="1806.3" cy="368.6" r="6.3" fill="#deebf8" stroke="#2f5fa8" stroke-width="1.5"/>
<circle cx="1841.5" cy="250.1" r="6.3" fill="#1a4f8f" stroke="#0f386a" stroke-width="1.5"/>
<circle cx="1853.3" cy="454.2" r="6.3" fill="#4272d0" stroke="#2c58a8" stroke-width="1.5"/>
<circle cx="1864.8" cy="282.2" r="6.3" fill="#deebf8" stroke="#2f5fa8" stroke-width="1.5"/>
<circle cx="1899.9" cy="383.5" r="6.3" fill="#1a4f8f" stroke="#0f386a" stroke-width="1.5"/>
<circle cx="1912.2" cy="449.2" r="6.3" fill="#4272d0" stroke="#2c58a8" stroke-width="1.5"/>
<circle cx="1923.6" cy="435.8" r="6.3" fill="#deebf8" stroke="#2f5fa8" stroke-width="1.5"/>
<line x1="1712.1" y1="92.1" x2="1712.1" y2="535.7" stroke="#000000" stroke-width="1.4"/>
<line x1="1829.9" y1="92.1" x2="1829.9" y2="535.7" stroke="#000000" stroke-width="1.4"/>
<text x="1601.58" y="59" font-size="32.8" fill="#404040" textLength="77.62" lengthAdjust="spacingAndGlyphs" xml:space="preserve">OFAV</text>
<text x="1689.93" y="59" font-size="32.8" fill="#404040" textLength="179.69" lengthAdjust="spacingAndGlyphs" xml:space="preserve">Calcification</text>
<text x="1577.83" y="97.01" font-size="18.5" fill="#595959" text-anchor="end">4000</text>
<text x="1577.83" y="152.58" font-size="18.5" fill="#595959" text-anchor="end">3500</text>
<text x="1577.83" y="208.16" font-size="18.5" fill="#595959" text-anchor="end">3000</text>
<text x="1577.83" y="263.73" font-size="18.5" fill="#595959" text-anchor="end">2500</text>
<text x="1577.83" y="319.31" font-size="18.5" fill="#595959" text-anchor="end">2000</text>
<text x="1577.83" y="374.88" font-size="18.5" fill="#595959" text-anchor="end">1500</text>
<text x="1577.83" y="430.46" font-size="18.5" fill="#595959" text-anchor="end">1000</text>
<text x="1577.81" y="486.03" font-size="18.5" fill="#595959" text-anchor="end">500</text>
<text x="1577.82" y="541.61" font-size="18.5" fill="#595959" text-anchor="end">0</text>
<text class="k" transform="translate(1512.9,504.4) rotate(-90)" x="-1.26" y="0" font-size="26.0" fill="#000" textLength="264.23" lengthAdjust="spacingAndGlyphs">Calcification (nmol CaC</text>
<text class="k" transform="translate(1512.9,238.1) rotate(-90)" x="-1.2" y="0" font-size="26.0" fill="#000" textLength="19.6" lengthAdjust="spacingAndGlyphs">O</text>
<text class="k" transform="translate(1518.6,218.4) rotate(-90)" x="-0.63" y="0" font-size="16.0" fill="#000" textLength="9.37" lengthAdjust="spacingAndGlyphs">3</text>
<text class="k" transform="translate(1512.9,210.4) rotate(-90)" x="0" y="0" font-size="26.0" fill="#000" textLength="45.25" lengthAdjust="spacingAndGlyphs">/cm</text>
<text class="k" transform="translate(1502.9,164.4) rotate(-90)" x="-0.76" y="0" font-size="16.0" fill="#000" textLength="8.43" lengthAdjust="spacingAndGlyphs">2</text>
<text class="k" transform="translate(1512.9,155.3) rotate(-90)" x="0" y="0" font-size="26.0" fill="#000" textLength="44.06" lengthAdjust="spacingAndGlyphs">/hr)</text>
<text class="k" transform="translate(1632.6,627.8) rotate(-90)" x="-2.28" y="0" font-size="24.2" fill="#000" textLength="81.59" lengthAdjust="spacingAndGlyphs">Middle</text>
<text class="k" transform="translate(1689,602.1) rotate(-90)" x="-1.96" y="0" font-size="24.2" fill="#000" textLength="55.38" lengthAdjust="spacingAndGlyphs">Edge</text>
<text class="k" transform="translate(1750.8,677.5) rotate(-90)" x="-2.1" y="0" font-size="24.2" fill="#000" textLength="130.24" lengthAdjust="spacingAndGlyphs">Non-Lesion</text>
<text class="k" transform="translate(1806.6,620.1) rotate(-90)" x="-2.04" y="0" font-size="24.2" fill="#000" textLength="72.72" lengthAdjust="spacingAndGlyphs">Lesion</text>
<text class="k" transform="translate(1866.3,677.5) rotate(-90)" x="-2.1" y="0" font-size="24.2" fill="#000" textLength="130.24" lengthAdjust="spacingAndGlyphs">Non-Lesion</text>
<text class="k" transform="translate(1920.6,620.1) rotate(-90)" x="-2.04" y="0" font-size="24.2" fill="#000" textLength="72.72" lengthAdjust="spacingAndGlyphs">Lesion</text>
<text class="k" x="1610.77" y="719" font-size="23.8" fill="#000" textLength="87.51" lengthAdjust="spacingAndGlyphs" xml:space="preserve">Healthy</text>
<text class="k" x="1719.66" y="719" font-size="23.8" fill="#000" textLength="103.02" lengthAdjust="spacingAndGlyphs" xml:space="preserve">Diseased</text>
<text class="k" x="1846.83" y="719" font-size="23.8" fill="#000" textLength="86.4" lengthAdjust="spacingAndGlyphs" xml:space="preserve">Treated</text>
</g>
</svg>
</div>
</body></html>
